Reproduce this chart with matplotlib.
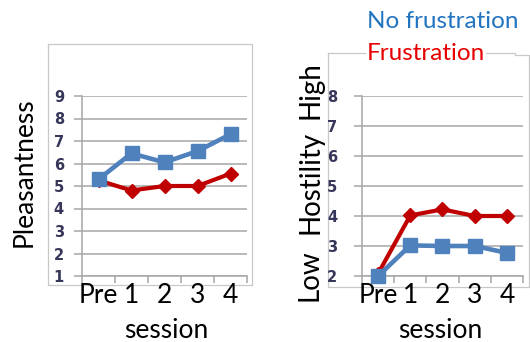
import numpy as np
import matplotlib.pyplot as plt
from matplotlib.lines import Line2D

sessions = ['Pre', '1', '2', '3', '4']
pleas_nofrus = [5.3, 6.45, 6.05, 6.55, 7.3]
pleas_frus = [5.25, 4.8, 5.0, 5.0, 5.55]
host_nofrus = [2.0, 3.02, 3.0, 3.0, 2.77]
host_frus = [2.08, 4.02, 4.22, 4.0, 4.0]

W, H = 530, 342
blue = '#4f81bd'
red = '#c00000'
grid_c = '#a6a6a6'
tick_c = '#36365a'
big_font = 'Lato'
big = 19

fig = plt.figure(figsize=(W / 100, H / 100), dpi=100)


def px_axes(x0, x1, y_top, y_bot):
    return fig.add_axes([x0 / W, 1 - y_bot / H, (x1 - x0) / W, (y_bot - y_top) / H])


def frame(xs, ys):
    fig.add_artist(Line2D(np.array(xs) / W, 1 - np.array(ys) / H, color='#c8c8c8',
                          lw=0.9, transform=fig.transFigure, zorder=0))


def style(ax, ymin, ymax, pad):
    x = np.arange(len(sessions))
    ax.set_xlim(-0.5, len(sessions) - 0.5)
    ax.set_ylim(ymin, ymax)
    ax.set_yticks(range(ymin, ymax + 1))
    ax.yaxis.grid(True, color=grid_c, lw=1.1)
    ax.set_axisbelow(True)
    for s in ['top', 'right']:
        ax.spines[s].set_visible(False)
    for s in ['left', 'bottom']:
        ax.spines[s].set_color(grid_c)
        ax.spines[s].set_linewidth(1.1)
    ax.tick_params(axis='y', length=6, width=1.1, color=grid_c, pad=pad,
                   labelsize=10.5, labelcolor=tick_c)
    for lab in ax.get_yticklabels():
        lab.set_fontweight('bold')
    ax.set_xticks(np.arange(-0.5, len(sessions)))
    ax.set_xticklabels([])
    ax.tick_params(axis='x', which='major', length=5, width=1.1, color=grid_c)
    ax.set_xticks(x, minor=True)
    ax.set_xticklabels(sessions, minor=True, fontsize=big, family=big_font)
    ax.tick_params(axis='x', which='minor', length=0, pad=5)
    return x


# left chart: pleasantness
frame([48, 252, 252, 48, 48], [44, 44, 285, 285, 44])
ax1 = px_axes(82, 247, 96, 276)
x = style(ax1, 1, 9, 7)
ax1.plot(x, pleas_frus, color=red, lw=3, marker='D', ms=7, zorder=3)
ax1.plot(x, pleas_nofrus, color=blue, lw=3.3, marker='s', ms=10, zorder=4)
fig.text(24 / W, 1 - 172 / H, 'Pleasantness', rotation=90, fontsize=big,
         family=big_font, ha='center', va='center')
fig.text(166 / W, 1 - 331 / H, 'session', fontsize=big, family=big_font,
         ha='center', va='center')

# right chart: hostility
frame([328, 515, 515, 529, 529, 328, 328], [53, 53, 55, 55, 287, 287, 53])
ax2 = px_axes(362, 523, 96, 276)
x = style(ax2, 2, 8, 12)
ax2.plot(x, host_frus, color=red, lw=3, marker='D', ms=7, zorder=3, clip_on=False)
ax2.plot(x, host_nofrus, color=blue, lw=3.3, marker='s', ms=10, zorder=4, clip_on=False)
fig.text(310 / W, 1 - 275 / H, 'Low', rotation=90, fontsize=big + 1,
         family=big_font, ha='center', va='center')
fig.text(310 / W, 1 - 182 / H, 'Hostility', rotation=90, fontsize=big + 1,
         family=big_font, ha='center', va='center')
fig.text(310 / W, 1 - 90 / H, 'High', rotation=90, fontsize=big + 1,
         family=big_font, ha='center', va='center')
fig.text(440 / W, 1 - 330 / H, 'session', fontsize=big, family=big_font,
         ha='center', va='center')

# legend text
fig.text(367 / W, 1 - 21 / H, 'No frustration', fontsize=17.5, family=big_font,
         color='#2174c0', ha='left', va='center')
fig.text(367 / W, 1 - 53 / H, 'Frustration', fontsize=17.5, family=big_font,
         color='#e60000', ha='left', va='center',
         bbox=dict(facecolor='white', edgecolor='none', pad=0.5))

fig.savefig('out.png', dpi=100)
